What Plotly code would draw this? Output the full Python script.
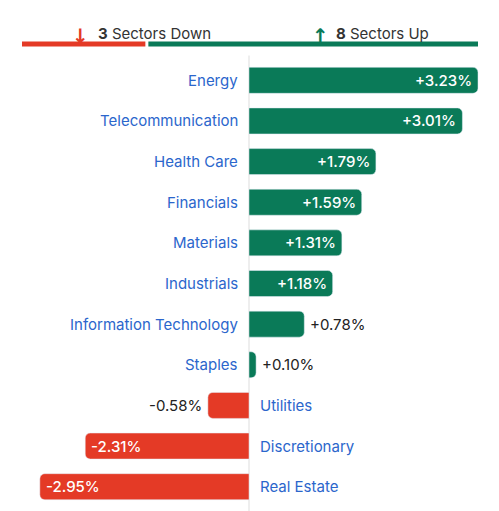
import plotly.graph_objects as go

sectors = ["Energy", "Telecommunication", "Health Care", "Financials", "Materials",
           "Industrials", "Information Technology", "Staples", "Utilities",
           "Discretionary", "Real Estate"]
changes = [3.23, 3.01, 1.79, 1.59, 1.31, 1.18, 0.78, 0.10, -0.58, -2.31, -2.95]

GREEN = "#0a7a58"
RED = "#e43a26"
BLUE = "#2b66cc"
FONT = "Inter"

O = 8  # page offset
W, H = 499 - O, 511 - O
T, B = 60 - O, 4
ZERO = 249 - O
SCALE = 70.9
ypos = list(range(len(sectors)))
colors = [GREEN if v >= 0 else RED for v in changes]

fig = go.Figure(go.Bar(
    x=changes, y=ypos, orientation="h", marker=dict(color=colors, cornerradius=5),
    width=0.64, hoverinfo="skip"))

ann = []
for y, name, v in zip(ypos, sectors, changes):
    txt = f"{v:+.2f}%"
    pos = v >= 0
    ann.append(dict(x=0, y=y, text=name, showarrow=False, xanchor="right" if pos else "left",
                    xshift=-9 if pos else 9, font=dict(color=BLUE, size=15, family=FONT)))
    if abs(v) >= 1:
        ann.append(dict(x=v, y=y, text=txt, showarrow=False,
                        xanchor="right" if pos else "left", xshift=-4 if pos else 4,
                        font=dict(color="white", size=15, family=FONT, weight=500)))
    else:
        ann.append(dict(x=v, y=y, text=txt, showarrow=False,
                        xanchor="left" if pos else "right", xshift=4 if pos else -4,
                        font=dict(color="#222", size=15, family=FONT)))

n_down = sum(1 for v in changes if v < 0)
n_up = sum(1 for v in changes if v > 0)
ph = H - T - B
def py(p):
    return 1 + (T - (p - O)) / ph
def px(p):
    return (p - O) / W

hdr = dict(xref="paper", yref="paper", showarrow=False, xanchor="left")
ann.append(dict(hdr, x=px(70), y=py(22), text="<b>↓</b>", font=dict(size=20, color=RED, family="DejaVu Sans")))
ann.append(dict(hdr, x=px(96), y=py(22), text=f"<b>{n_down}</b> Sectors Down",
                font=dict(size=15, family=FONT, color="#333")))
ann.append(dict(hdr, x=px(310), y=py(22), text="<b>↑</b>", font=dict(size=20, color=GREEN, family="DejaVu Sans")))
ann.append(dict(hdr, x=px(334), y=py(22), text=f"<b>{n_up}</b> Sectors Up",
                font=dict(size=15, family=FONT, color="#333")))

x0, x1 = 22, 478
split = x0 + (x1 - x0) * n_down / (n_down + n_up)
shapes = [
    dict(type="line", xref="paper", yref="paper", x0=px(x0), x1=px(split - 1),
         y0=py(44), y1=py(44), line=dict(color=RED, width=5)),
    dict(type="line", xref="paper", yref="paper", x0=px(split + 2), x1=px(x1),
         y0=py(44), y1=py(44), line=dict(color=GREEN, width=5)),
    dict(type="line", xref="x", yref="paper", x0=0, x1=0, y0=-0.01, y1=1.01,
         line=dict(color="#dddddd", width=1), layer="below"),
]

fig.update_layout(
    width=W, height=H, margin=dict(l=0, r=0, t=T, b=B),
    plot_bgcolor="white", paper_bgcolor="white", showlegend=False,
    xaxis=dict(range=[-ZERO / SCALE, (W - ZERO) / SCALE], visible=False, fixedrange=True),
    yaxis=dict(range=[10.5, -0.5], visible=False, fixedrange=True),
    annotations=ann, shapes=shapes, font=dict(family=FONT),
)
fig.write_html("out.html")
